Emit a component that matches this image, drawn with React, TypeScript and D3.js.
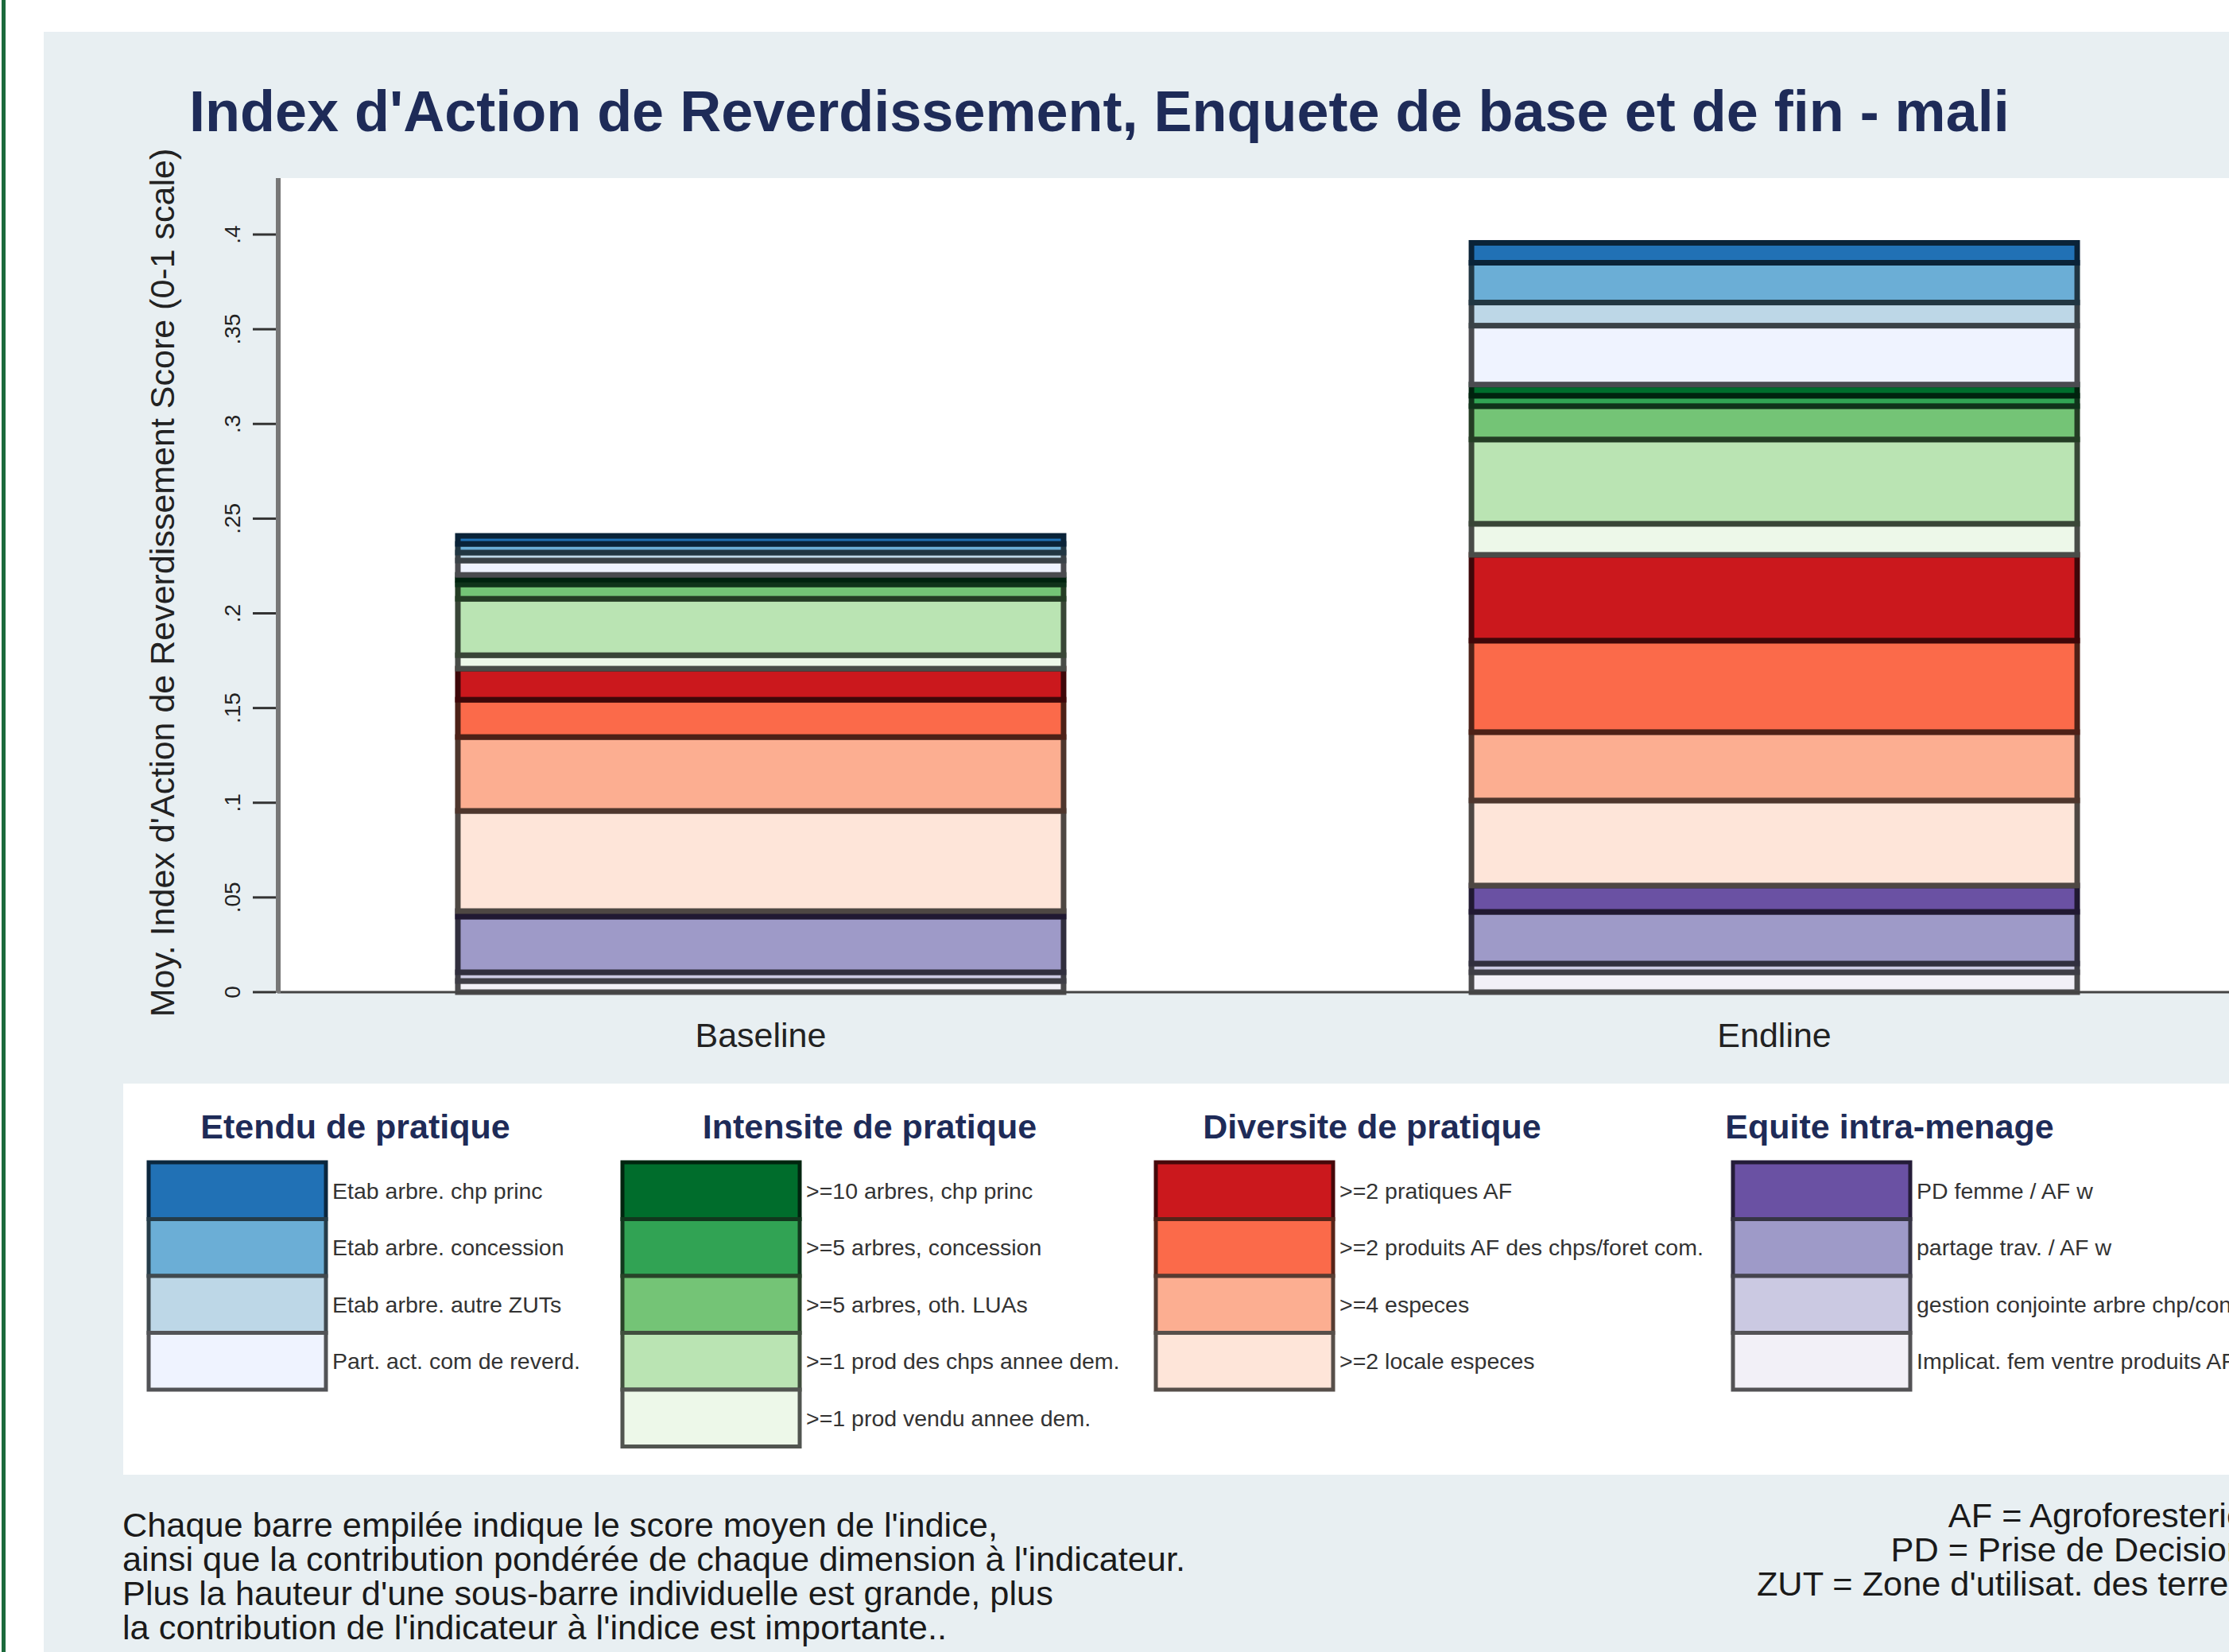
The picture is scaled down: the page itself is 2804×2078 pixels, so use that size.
import { useEffect, useRef } from 'react';
import * as d3 from 'd3';

// categories / ticks
const categories = ['Baseline', 'Endline'];
const yTicks = [0, 0.05, 0.1, 0.15, 0.2, 0.25, 0.3, 0.35, 0.4];
const yTickLabels = ['0', '.05', '.1', '.15', '.2', '.25', '.3', '.35', '.4'];

const groupTitles = ['Etendu de pratique', 'Intensite de pratique', 'Diversite de pratique', 'Equite intra-menage'];

// indicators in legend order (top of each column first)
const indicators = [
  'Etab arbre. chp princ',
  'Etab arbre. concession',
  'Etab arbre. autre ZUTs',
  'Part. act. com de reverd.',
  '>=10 arbres, chp princ',
  '>=5 arbres, concession',
  '>=5 arbres, oth. LUAs',
  '>=1 prod des chps annee dem.',
  '>=1 prod vendu annee dem.',
  '>=2 pratiques AF',
  '>=2 produits AF des chps/foret com.',
  '>=4 especes',
  '>=2 locale especes',
  'PD femme / AF w',
  'partage trav. / AF w',
  'gestion conjointe arbre chp/concession',
  'Implicat. fem ventre produits AF',
];
const indicatorGroup = [0, 0, 0, 0, 1, 1, 1, 1, 1, 2, 2, 2, 2, 3, 3, 3, 3];
const indicatorColors = [
  '#2171b5', '#6baed6', '#bdd7e7', '#eff3ff',
  '#006d2c', '#31a354', '#74c476', '#bae4b3', '#edf8e9',
  '#cb181d', '#fb6a4a', '#fcae91', '#fee5d9',
  '#6a51a3', '#9e9ac8', '#cbc9e2', '#f2f0f7',
];

// weighted contributions
const baselineValues = [
  0.0042, 0.0046, 0.0042, 0.0076,
  0.0025, 0.0025, 0.0076, 0.0298, 0.0071,
  0.0164, 0.0197, 0.0390, 0.0529,
  0.0029, 0.0294, 0.0046, 0.0059,
];
const endlineValues = [
  0.0105, 0.0210, 0.0122, 0.0311,
  0.0059, 0.0055, 0.0176, 0.0445, 0.0164,
  0.0453, 0.0483, 0.0361, 0.0449,
  0.0139, 0.0273, 0.0046, 0.0105,
];

const notesLeft = [
  "Chaque barre empilée indique le score moyen de l'indice,",
  "ainsi que la contribution pondérée de chaque dimension à l'indicateur.",
  "Plus la hauteur d'une sous-barre individuelle est grande, plus",
  "la contribution de l'indicateur à l'indice est importante..",
];
const notesRight = [
  'AF = Agroforesterie',
  'PD = Prise de Decision',
  "ZUT = Zone d'utilisat. des terres",
];

const FONT = '"Liberation Sans", Arial, sans-serif';
const NAVY = '#1e2b58';

export default function App() {
  const svgRef = useRef<SVGSVGElement>(null);

  useEffect(() => {
    if (!svgRef.current) return;
    const svg = d3.select(svgRef.current);
    svg.selectAll('*').remove();

    const W = 2804, H = 2078;
    const plot = { left: 349, top: 224, bottom: 1248, right: 2840 };

    // page + outer panel
    svg.append('rect').attr('width', W).attr('height', H).attr('fill', '#ffffff');
    svg.append('rect').attr('x', 2).attr('y', 0).attr('width', 5).attr('height', H).attr('fill', '#1b6a3c');
    svg.append('rect').attr('x', 55).attr('y', 40).attr('width', W).attr('height', H).attr('fill', '#e8eff2');
    svg.append('rect')
      .attr('x', plot.left).attr('y', plot.top)
      .attr('width', plot.right - plot.left).attr('height', plot.bottom - plot.top)
      .attr('fill', '#ffffff');

    // scales
    const y = d3.scaleLinear().domain([0, 0.4]).range([1248, 295]);
    const x = d3.scaleBand<string>()
      .domain(categories)
      .range([plot.left, plot.right])
      .paddingInner(0.4024)
      .paddingOuter(0.178);

    // stacked data (last legend item sits at the bottom)
    const table = categories.map((c, i) => {
      const vals = i === 0 ? baselineValues : endlineValues;
      const row: Record<string, any> = { category: c };
      indicators.forEach((k, j) => { row[k] = vals[j]; });
      return row;
    });
    const keys = indicators.slice().reverse();
    const series = d3.stack<any>().keys(keys)(table);

    const bars = svg.append('g');
    series.forEach(s => {
      const idx = indicators.indexOf(s.key);
      const fill = indicatorColors[idx];
      bars.selectAll(null)
        .data(s)
        .enter()
        .append('rect')
        .attr('x', d => x(d.data.category)!)
        .attr('width', x.bandwidth())
        .attr('y', d => y(d[1]))
        .attr('height', d => y(d[0]) - y(d[1]))
        .attr('fill', fill)
        .attr('stroke', d3.color(fill)!.darker(3.3).formatHex())
        .attr('stroke-width', 7);
    });

    // axes
    svg.append('line')
      .attr('x1', plot.left).attr('x2', W)
      .attr('y1', y(0)).attr('y2', y(0))
      .attr('stroke', '#444').attr('stroke-width', 3);
    svg.append('line')
      .attr('x1', 350).attr('x2', 350)
      .attr('y1', plot.top).attr('y2', y(0) + 1)
      .attr('stroke', '#777').attr('stroke-width', 6);

    const ticks = svg.append('g');
    yTicks.forEach((t, i) => {
      ticks.append('line')
        .attr('x1', 318).attr('x2', 347)
        .attr('y1', y(t)).attr('y2', y(t))
        .attr('stroke', '#333').attr('stroke-width', 3);
      ticks.append('text')
        .attr('transform', `translate(302,${y(t)}) rotate(-90)`)
        .attr('text-anchor', 'middle')
        .attr('font-family', FONT)
        .attr('font-size', 28)
        .attr('fill', '#222')
        .text(yTickLabels[i]);
    });

    svg.append('text')
      .attr('transform', 'translate(219,733) rotate(-90)')
      .attr('text-anchor', 'middle')
      .attr('font-family', FONT)
      .attr('font-size', 43)
      .attr('fill', '#222')
      .text("Moy. Index d'Action de Reverdissement Score (0-1 scale)");

    categories.forEach(c => {
      svg.append('text')
        .attr('x', x(c)! + x.bandwidth() / 2)
        .attr('y', 1317)
        .attr('text-anchor', 'middle')
        .attr('font-family', FONT)
        .attr('font-size', 43)
        .attr('fill', '#222')
        .text(c);
    });

    // title
    svg.append('text')
      .attr('x', 238).attr('y', 165)
      .attr('font-family', FONT)
      .attr('font-weight', 'bold')
      .attr('font-size', 72)
      .attr('fill', NAVY)
      .text("Index d'Action de Reverdissement, Enquete de base et de fin - mali");

    // legend
    const legend = svg.append('g');
    legend.append('rect')
      .attr('x', 155).attr('y', 1363)
      .attr('width', W).attr('height', 492)
      .attr('fill', '#ffffff');

    const colSwatchX = [187, 783, 1454, 2180];
    const colTitleX = [447, 1094, 1726, 2377];
    const swW = 223, rowH = 71.5, rowTop = 1462;

    groupTitles.forEach((g, gi) => {
      legend.append('text')
        .attr('x', colTitleX[gi]).attr('y', 1432)
        .attr('text-anchor', 'middle')
        .attr('font-family', FONT)
        .attr('font-weight', 'bold')
        .attr('font-size', 43)
        .attr('fill', NAVY)
        .text(g);

      const members = indicators.map((_, i) => i).filter(i => indicatorGroup[i] === gi);
      members.forEach((idx, r) => {
        const fill = indicatorColors[idx];
        const ry = rowTop + r * rowH;
        legend.append('rect')
          .attr('x', colSwatchX[gi]).attr('y', ry)
          .attr('width', swW).attr('height', rowH)
          .attr('fill', fill)
          .attr('stroke', d3.color(fill)!.darker(3).formatHex())
          .attr('stroke-width', 5);
        legend.append('text')
          .attr('x', colSwatchX[gi] + swW + 8)
          .attr('y', ry + rowH / 2)
          .attr('dy', '0.35em')
          .attr('font-family', FONT)
          .attr('font-size', 28.5)
          .attr('fill', '#333')
          .text(indicators[idx]);
      });
    });

    // notes
    notesLeft.forEach((t, i) => {
      svg.append('text')
        .attr('x', 154).attr('y', 1933 + i * 43)
        .attr('font-family', FONT)
        .attr('font-size', 43.3)
        .attr('fill', '#1a1a1a')
        .text(t);
    });
    notesRight.forEach((t, i) => {
      svg.append('text')
        .attr('x', 2825).attr('y', 1921 + i * 43)
        .attr('text-anchor', 'end')
        .attr('font-family', FONT)
        .attr('font-size', 43.3)
        .attr('fill', '#1a1a1a')
        .text(t);
    });
  }, []);

  return (
    <svg
      ref={svgRef}
      width={2804}
      height={2078}
      style={{ position: 'absolute', left: 0, top: 0, display: 'block' }}
    />
  );
}
